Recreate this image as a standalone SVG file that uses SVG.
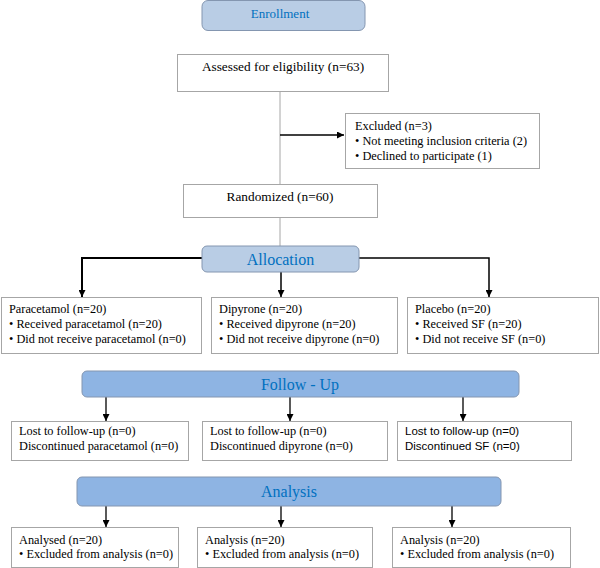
<svg xmlns="http://www.w3.org/2000/svg" width="600" height="568" viewBox="0 0 600 568">
<defs>
<marker id="ahs" viewBox="0 0 10 10" refX="10" refY="5" markerWidth="7" markerHeight="7" orient="auto" markerUnits="userSpaceOnUse">
<path d="M0,0 L10,5 L0,10 z" fill="#000"/>
</marker>
</defs>
<style>
.box{fill:#fff;stroke:#a6a6a6;stroke-width:1}
.hl{fill:#b9cde5;stroke:#8496b0;stroke-width:1}
.hd{fill:#8eb4e3;stroke:#8496b0;stroke-width:1}
.t{font-family:"Liberation Serif","Times New Roman",serif;font-size:12.3px;fill:#000}
.tb{font-family:"Liberation Serif","Times New Roman",serif;font-size:13.3px;fill:#000;text-anchor:middle}
.s{font-family:"Liberation Sans",Arial,sans-serif;font-size:11.5px;fill:#000}
.h{font-family:"Liberation Serif","Times New Roman",serif;fill:#0070c0;text-anchor:middle}
.c{stroke:#000;fill:none}
</style>
<rect width="600" height="568" fill="#fff"/>
<g id="connectors">
<line x1="280" y1="91" x2="280" y2="246" stroke="#a6a6a6" stroke-width="1"/>
<line class="c" x1="280" y1="135" x2="344" y2="135" stroke-width="1.5" marker-end="url(#ahs)"/>
<polyline class="c" points="202,258 82,258 82,297" stroke-width="2" marker-end="url(#ahs)"/>
<line class="c" x1="281" y1="272" x2="281" y2="297" stroke-width="1.5" marker-end="url(#ahs)"/>
<polyline class="c" points="359,258 489,258 489,297" stroke-width="1.5" marker-end="url(#ahs)"/>
<line class="c" x1="106" y1="397" x2="106" y2="421" stroke-width="1.3" marker-end="url(#ahs)"/>
<line class="c" x1="290" y1="397" x2="290" y2="421" stroke-width="1.3" marker-end="url(#ahs)"/>
<line class="c" x1="463" y1="397" x2="463" y2="421" stroke-width="1.3" marker-end="url(#ahs)"/>
<line class="c" x1="106" y1="506" x2="106" y2="527" stroke-width="1.3" marker-end="url(#ahs)"/>
<line class="c" x1="281" y1="506" x2="281" y2="527" stroke-width="1.3" marker-end="url(#ahs)"/>
<line class="c" x1="452" y1="506" x2="452" y2="527" stroke-width="1.3" marker-end="url(#ahs)"/>
</g>
<g id="enrollment">
<rect class="hl" x="202" y="0.5" width="163" height="30" rx="6"/>
<text class="h" x="280" y="18" font-size="13">Enrollment</text>
</g>
<g id="assessed">
<rect class="box" x="177.5" y="54.5" width="211" height="37"/>
<text class="tb" x="283" y="71">Assessed for eligibility (n=63)</text>
</g>
<g id="excluded">
<rect class="box" x="345.5" y="113.5" width="194" height="55"/>
<text class="t" x="355" y="130">Excluded (n=3)</text>
<text class="t" x="355" y="145">• Not  meeting inclusion criteria (2)</text>
<text class="t" x="355" y="160">• Declined to participate (1)</text>
</g>
<g id="randomized">
<rect class="box" x="183.5" y="184.5" width="194" height="33"/>
<text class="tb" x="280" y="201">Randomized (n=60)</text>
</g>
<g id="allocation">
<rect class="hl" x="202" y="246" width="157" height="26" rx="5"/>
<text class="h" x="280.5" y="265" font-size="16">Allocation</text>
</g>
<g id="paracetamol">
<rect class="box" x="1.5" y="297.5" width="200" height="56"/>
<text class="t" x="9" y="313">Paracetamol (n=20)</text>
<text class="t" x="9" y="328">• Received paracetamol (n=20)</text>
<text class="t" x="9" y="343">• Did not receive paracetamol (n=0)</text>
</g>
<g id="dipyrone">
<rect class="box" x="211.5" y="297.5" width="186" height="56"/>
<text class="t" x="219" y="313">Dipyrone (n=20)</text>
<text class="t" x="219" y="328">• Received dipyrone (n=20)</text>
<text class="t" x="219" y="343">• Did not receive dipyrone (n=0)</text>
</g>
<g id="placebo">
<rect class="box" x="407.5" y="297.5" width="191" height="56"/>
<text class="t" x="415" y="313">Placebo (n=20)</text>
<text class="t" x="415" y="328">• Received SF (n=20)</text>
<text class="t" x="415" y="343">• Did not receive SF (n=0)</text>
</g>
<g id="followup">
<rect class="hd" x="82" y="371" width="437" height="26" rx="5"/>
<text class="h" x="300" y="390" font-size="16">Follow - Up</text>
</g>
<g id="lost1">
<rect class="box" x="11.5" y="421.5" width="177" height="39"/>
<text class="t" x="19" y="435">Lost to follow-up (n=0)</text>
<text class="t" x="19" y="450">Discontinued paracetamol (n=0)</text>
</g>
<g id="lost2">
<rect class="box" x="202.5" y="421.5" width="185" height="39"/>
<text class="t" x="210" y="435">Lost to follow-up (n=0)</text>
<text class="t" x="210" y="450">Discontinued dipyrone (n=0)</text>
</g>
<g id="lost3">
<rect class="box" x="397.5" y="421.5" width="174" height="39"/>
<text class="s" x="405" y="435">Lost to follow-up (n=0)</text>
<text class="s" x="405" y="450">Discontinued SF (n=0)</text>
</g>
<g id="analysis">
<rect class="hd" x="77" y="477" width="424" height="29" rx="5"/>
<text class="h" x="289" y="497" font-size="16">Analysis</text>
</g>
<g id="analysed1">
<rect class="box" x="11.5" y="527.5" width="167" height="40"/>
<text class="t" x="19" y="544">Analysed (n=20)</text>
<text class="t" x="19" y="558">• Excluded from analysis (n=0)</text>
</g>
<g id="analysed2">
<rect class="box" x="197.5" y="527.5" width="175" height="40"/>
<text class="t" x="205" y="544">Analysis (n=20)</text>
<text class="t" x="205" y="558">• Excluded from analysis (n=0)</text>
</g>
<g id="analysed3">
<rect class="box" x="392.5" y="527.5" width="178" height="40"/>
<text class="t" x="400" y="544">Analysis (n=20)</text>
<text class="t" x="400" y="558">• Excluded from analysis (n=0)</text>
</g>
</svg>
